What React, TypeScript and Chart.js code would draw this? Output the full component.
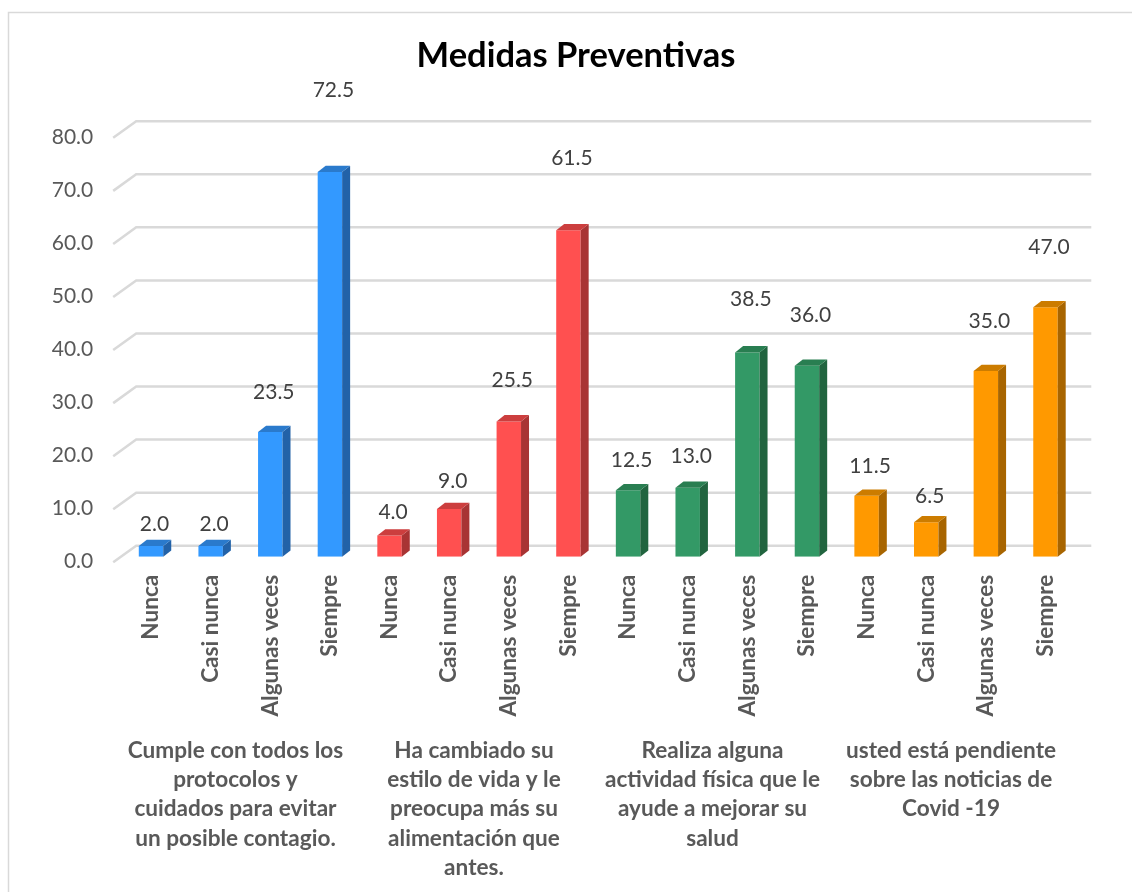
import React, { useEffect, useRef } from "react";
import { Chart, registerables } from "chart.js";

Chart.register(...registerables);

// ---- data ----
const chartTitle = "Medidas Preventivas";
const responseLabels = ["Nunca", "Casi nunca", "Algunas veces", "Siempre"];
const groupLabels = [
  ["Cumple con todos los", "protocolos y", "cuidados para evitar", "un posible contagio."],
  ["Ha cambiado su", "estilo de vida y le", "preocupa más su", "alimentación que", "antes."],
  ["Realiza alguna", "actividad física que le", "ayude a mejorar su", "salud"],
  ["usted está pendiente", "sobre las noticias de", "Covid -19"],
];
const protocolosValues = [2.0, 2.0, 23.5, 72.5];
const estiloVidaValues = [4.0, 9.0, 25.5, 61.5];
const actividadValues = [12.5, 13.0, 38.5, 36.0];
const noticiasValues = [11.5, 6.5, 35.0, 47.0];
const yMin = 0;
const yMax = 80;
const yStep = 10;

// ---- styles ----
const frontColors = ["#3399FF", "#FF5050", "#339966", "#FF9900"];
const sideColors = ["#2262A8", "#A83434", "#21643F", "#A86500"];
const topColors = ["#2A7ACC", "#CC3E3E", "#297E51", "#CC7C00"];
const FONT = "Lato, 'Open Sans', sans-serif";

export default function App() {
  const canvasRef = useRef<HTMLCanvasElement | null>(null);

  useEffect(() => {
    const canvas = canvasRef.current;
    if (!canvas) return;

    const groups = [protocolosValues, estiloVidaValues, actividadValues, noticiasValues];
    const labels = groups.flatMap(() => responseLabels);
    const values = groups.flatMap((g) => g);
    const groupIndex = groups.flatMap((g, gi) => g.map(() => gi));

    const depthX = 8;
    const depthY = 6.3;

    const frame3d = {
      id: "frame3d",
      beforeDraw(chart: any) {
        const ctx = chart.ctx;
        ctx.save();
        ctx.fillStyle = "#ffffff";
        ctx.fillRect(0, 0, chart.width, chart.height);
        ctx.strokeStyle = "#D9D9D9";
        ctx.lineWidth = 1.5;
        ctx.beginPath();
        ctx.moveTo(8.5, chart.height);
        ctx.lineTo(8.5, 12.5);
        ctx.lineTo(chart.width, 12.5);
        ctx.stroke();
        // title
        ctx.fillStyle = "#000000";
        ctx.font = `bold 34.5px ${FONT}`;
        ctx.textAlign = "center";
        ctx.textBaseline = "alphabetic";
        ctx.fillText(chartTitle, 576, 67);
        ctx.restore();
      },
      beforeDatasetsDraw(chart: any) {
        const ctx = chart.ctx;
        const y = chart.scales.y;
        const area = chart.chartArea;
        ctx.save();
        ctx.strokeStyle = "#D9D9D9";
        ctx.lineWidth = 2.5;
        for (let v = yMin; v <= yMax; v += yStep) {
          const yf = y.getPixelForValue(v);
          const back = yf - 11;
          ctx.beginPath();
          ctx.moveTo(area.left - 8, yf + 5.6);
          ctx.lineTo(area.left + 15, back);
          ctx.lineTo(area.right + 16, back);
          ctx.stroke();
        }
        ctx.restore();
      },
      afterDatasetsDraw(chart: any) {
        const ctx = chart.ctx;
        const meta = chart.getDatasetMeta(0);
        const yScale = chart.scales.y;
        ctx.save();
        meta.data.forEach((bar: any, i: number) => {
          const { x, y, base, width } = bar.getProps(["x", "y", "base", "width"], true);
          const left = x - width / 2;
          const right = x + width / 2;
          const gi = groupIndex[i];
          // side face
          ctx.fillStyle = sideColors[gi];
          ctx.beginPath();
          ctx.moveTo(right, y);
          ctx.lineTo(right + depthX, y - depthY);
          ctx.lineTo(right + depthX, base - depthY);
          ctx.lineTo(right, base);
          ctx.closePath();
          ctx.fill();
          // top face
          ctx.fillStyle = topColors[gi];
          ctx.beginPath();
          ctx.moveTo(left, y);
          ctx.lineTo(left + depthX, y - depthY);
          ctx.lineTo(right + depthX, y - depthY);
          ctx.lineTo(right, y);
          ctx.closePath();
          ctx.fill();
        });
        // value labels (perspective-like placement above the bars)
        ctx.fillStyle = "#404040";
        ctx.font = `21px ${FONT}`;
        ctx.textAlign = "center";
        ctx.textBaseline = "middle";
        meta.data.forEach((bar: any, i: number) => {
          const v = values[i];
          const ly = yScale.getPixelForValue(v * 1.16) - 20;
          ctx.fillText(v.toFixed(1), bar.x + 3.5, ly);
        });
        ctx.restore();
      },
    };

    const chart = new Chart(canvas, {
      type: "bar",
      data: {
        labels,
        datasets: [
          {
            data: values,
            backgroundColor: groupIndex.map((gi) => frontColors[gi]),
            borderWidth: 0,
            barPercentage: 0.41,
            categoryPercentage: 1.0,
          },
        ],
      },
      options: {
        responsive: false,
        animation: false,
        events: [],
        layout: { padding: { left: 0, right: 56.7, top: 132.2, bottom: 0 } },
        plugins: {
          legend: { display: false },
          tooltip: { enabled: false },
          title: { display: false },
        },
        scales: {
          x: {
            type: "category",
            position: "bottom",
            offset: true,
            weight: 0,
            grid: { display: false, drawTicks: false },
            border: { display: false },
            ticks: {
              autoSkip: false,
              minRotation: 90,
              maxRotation: 90,
              padding: 18,
              color: "#595959",
              font: { family: FONT, weight: "bold", size: 22.6 },
            },
            afterFit: (s: any) => {
              s.height = 168;
            },
          },
          x2: {
            type: "category",
            position: "bottom",
            labels: groupLabels as any,
            offset: true,
            weight: 1,
            grid: { display: false, drawTicks: false },
            border: { display: false },
            ticks: {
              autoSkip: false,
              minRotation: 0,
              maxRotation: 0,
              padding: 11,
              labelOffset: -5,
              color: "#595959",
              font: { family: FONT, weight: "bold", size: 22.6, lineHeight: 1.3 },
            },
            afterFit: (s: any) => {
              s.height = 167.3;
            },
          },
          y: {
            min: yMin,
            max: yMax,
            grid: { display: false, drawTicks: false },
            border: { display: false },
            ticks: {
              stepSize: yStep,
              padding: 28,
              labelOffset: 5,
              color: "#595959",
              font: { family: FONT, size: 21 },
              callback: (v: any) => Number(v).toFixed(1),
            },
            afterFit: (s: any) => {
              s.width = 121.2;
            },
          },
        },
      } as any,
      plugins: [frame3d],
    });

    return () => {
      chart.destroy();
    };
  }, []);

  return (
    <div style={{ position: "absolute", left: 0, top: 0, width: 1132, height: 892, background: "#fff" }}>
      <canvas ref={canvasRef} width={1132} height={892} style={{ display: "block" }} />
    </div>
  );
}
